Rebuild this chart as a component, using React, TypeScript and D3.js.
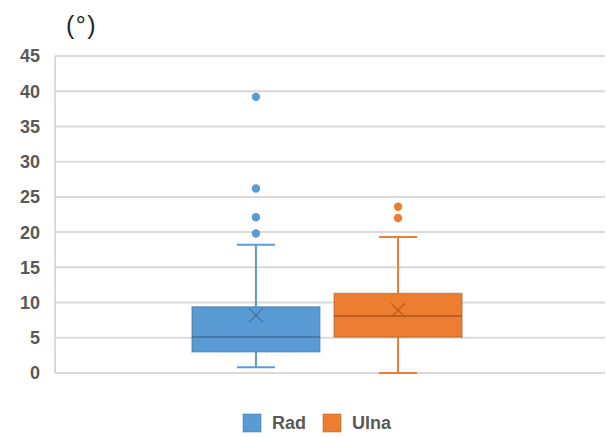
import React from 'react';
import * as d3 from 'd3';

const series = ['Rad', 'Ulna'];
const colors = ['#5B9BD5', '#ED7D31'];
const darkColors = ['#41719C', '#AE5A21'];
const q1 = [3.0, 5.1];
const median = [5.1, 8.1];
const q3 = [9.4, 11.3];
const whiskerLow = [0.8, 0];
const whiskerHigh = [18.2, 19.3];
const means = [8.2, 8.9];
const outliers = [
  [39.2, 26.2, 22.1, 19.8],
  [23.6, 22.0],
];
const yTicks = [0, 5, 10, 15, 20, 25, 30, 35, 40, 45];

const width = 606;
const height = 437;

const App = () => {
  const y = d3.scaleLinear().domain([0, 45]).range([373, 56]);
  const x = d3.scaleBand().domain(series).range([192, 462]).paddingInner(0.1);
  const bw = x.bandwidth();
  const font = '"Liberation Sans", Arial, sans-serif';

  return (
    <svg width={width} height={height} style={{ position: 'absolute', left: 0, top: 0 }}>
      <rect width={width} height={height} fill="#fff" />
      {/* grid */}
      {yTicks.map((t) => (
        <line key={t} x1={55} x2={605} y1={y(t)} y2={y(t)} stroke="#d9d9d9" strokeWidth={2} />
      ))}
      <line x1={55} x2={55} y1={y(45)} y2={y(0)} stroke="#d9d9d9" strokeWidth={2} />
      {yTicks.map((t) => (
        <text key={t} x={40} y={y(t)} dy="0.36em" textAnchor="end" fontFamily={font}
          fontSize={18} fontWeight="bold" fill="#595959">{t}</text>
      ))}
      <text x={66} y={34} fontFamily={font} fontSize={25} fill="#262626" letterSpacing={1.5}>(°)</text>

      {series.map((s, i) => {
        const x0 = x(s)!;
        const cx = x0 + bw / 2;
        return (
          <g key={s}>
            <line x1={cx} x2={cx} y1={y(whiskerHigh[i])} y2={y(q3[i])} stroke={colors[i]} strokeWidth={2} />
            <line x1={cx} x2={cx} y1={y(q1[i])} y2={y(whiskerLow[i])} stroke={colors[i]} strokeWidth={2} />
            <line x1={cx - 19} x2={cx + 19} y1={y(whiskerHigh[i])} y2={y(whiskerHigh[i])} stroke={colors[i]} strokeWidth={2} />
            <line x1={cx - 19} x2={cx + 19} y1={y(whiskerLow[i])} y2={y(whiskerLow[i])} stroke={colors[i]} strokeWidth={2} />
            <rect x={x0} y={y(q3[i])} width={bw} height={y(q1[i]) - y(q3[i])} fill={colors[i]}
              stroke={darkColors[i]} strokeOpacity={0.5} strokeWidth={1.5} />
            <line x1={x0} x2={x0 + bw} y1={y(median[i])} y2={y(median[i])} stroke={darkColors[i]} strokeOpacity={0.8} strokeWidth={2} />
            <g stroke={darkColors[i]} strokeOpacity={0.8} strokeWidth={1.5}>
              <line x1={cx - 7} x2={cx + 7} y1={y(means[i]) - 7} y2={y(means[i]) + 7} />
              <line x1={cx - 7} x2={cx + 7} y1={y(means[i]) + 7} y2={y(means[i]) - 7} />
            </g>
            {outliers[i].map((v, j) => (
              <circle key={j} cx={cx} cy={y(v)} r={4.2} fill={colors[i]} />
            ))}
          </g>
        );
      })}

      {/* legend */}
      {series.map((s, i) => {
        const lx = [243, 323][i];
        return (
          <g key={s}>
            <rect x={lx} y={414} width={18} height={18} fill={colors[i]} stroke={darkColors[i]} strokeOpacity={0.5} />
            <text x={lx + 29} y={423} dy="0.36em" fontFamily={font} fontSize={18} fontWeight="bold" fill="#595959">{s}</text>
          </g>
        );
      })}
    </svg>
  );
};

export default App;
